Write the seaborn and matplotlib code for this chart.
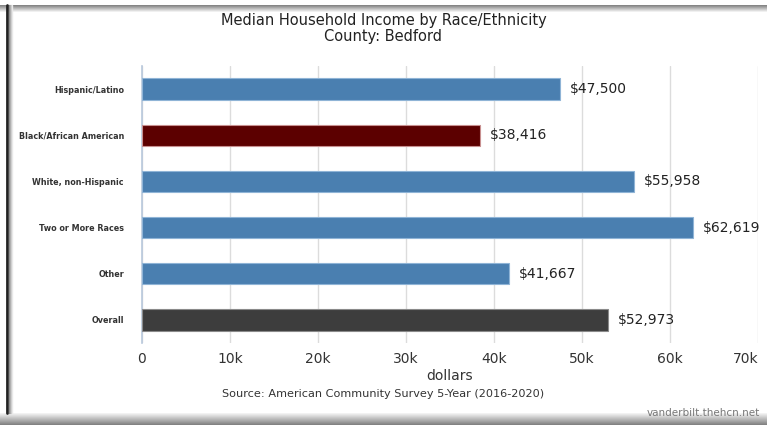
import matplotlib
matplotlib.use("Agg")
import matplotlib.pyplot as plt
import seaborn as sns
import pandas as pd
from matplotlib.patches import Rectangle
from matplotlib.lines import Line2D

# Median household income by race/ethnicity, Bedford County
categories = ["Hispanic/Latino", "Black/African American", "White, non-Hispanic",
              "Two or More Races", "Other", "Overall"]
incomes = [47500, 38416, 55958, 62619, 41667, 52973]
bar_colors = ["#4a7fb0", "#5c0000", "#4a7fb0", "#4a7fb0", "#4a7fb0", "#3d3d3d"]
edge_colors = ["#8fb4d6", "#c89090", "#8fb4d6", "#8fb4d6", "#8fb4d6", "#8a8a8a"]
x_ticks = [0, 10000, 20000, 30000, 40000, 50000, 60000, 70000]
x_tick_labels = ["0", "10k", "20k", "30k", "40k", "50k", "60k", "70k"]

df = pd.DataFrame({"category": categories, "income": incomes})

sns.set_theme(style="white")
plt.rcParams["font.family"] = ["DejaVu Sans"]

fig = plt.figure(figsize=(7.67, 4.25), dpi=100)
W, H = 767, 425
ax = fig.add_axes([142 / W, 1 - 343 / H, 616 / W, 277 / H])

sns.barplot(data=df, x="income", y="category", hue="category",
            palette=dict(zip(categories, bar_colors)), legend=False,
            saturation=1, width=0.46, orient="h", ax=ax, zorder=3)

for patch, ec in zip(ax.patches, edge_colors):
    patch.set_edgecolor(ec)
    patch.set_linewidth(0.8)

ax.set_xlim(0, 70000)
ax.set_ylim(5.5, -0.5)
ax.set_xticks(x_ticks)
ax.set_xticklabels(x_tick_labels, fontsize=10, color="#333333")
ax.get_xticklabels()[-1].set_horizontalalignment("right")
ax.tick_params(axis="x", length=0, pad=6.5)
ax.tick_params(axis="y", length=0, pad=13, labelsize=5.8, labelcolor="#333333")
for lbl in ax.get_yticklabels():
    lbl.set_fontweight("bold")

ax.grid(axis="x", color="#dcdcdc", linewidth=1.0, zorder=0)
ax.grid(axis="y", visible=False)
for side in ["top", "right", "bottom"]:
    ax.spines[side].set_visible(False)
ax.spines["left"].set_color("#b8c8dc")
ax.spines["left"].set_linewidth(1.2)

ax.set_xlabel("dollars", fontsize=10, color="#333333", labelpad=2)
ax.set_ylabel("")

# Value labels at bar ends
for i, v in enumerate(incomes):
    ax.annotate(f"${v:,}", xy=(v, i), xytext=(7, 0), textcoords="offset points",
                va="center", ha="left", fontsize=10, color="#222222",
                annotation_clip=False)

# Titles and source note
fig.text(0.5, 1 - 20 / H, "Median Household Income by Race/Ethnicity",
         ha="center", va="center", fontsize=10.5, color="#222222")
fig.text(0.5, 1 - 36 / H, "County: Bedford",
         ha="center", va="center", fontsize=10.5, color="#222222")
fig.text(0.5, 1 - 394 / H, "Source: American Community Survey 5-Year (2016-2020)",
         ha="center", va="center", fontsize=8.1, color="#333333")
fig.text(760 / W, 1 - 413 / H, "vanderbilt.thehcn.net",
         ha="right", va="center", fontsize=7.5, color="#777777")

# Window frame: top and bottom shading, left border
for k in range(8):
    g = 0.45 + k * 0.07
    fig.add_artist(Rectangle((0, 1 - (5 + k) / H), 1, 1 / H,
                             transform=fig.transFigure, color=(g, g, g),
                             zorder=0, lw=0))
fig.add_artist(Rectangle((0, 1 - 5 / H), 1, 5 / H, transform=fig.transFigure,
                         color="white", zorder=0, lw=0))
for k in range(12):
    g = 0.95 - k * 0.04
    fig.add_artist(Rectangle((0, (12 - k) / H - 1 / H), 1, 1 / H,
                             transform=fig.transFigure, color=(g, g, g),
                             zorder=0, lw=0))
fig.add_artist(Line2D([7 / W, 7 / W], [12 / H, 1 - 5 / H],
                      transform=fig.transFigure, color="#222222", lw=2))
for k in range(4):
    g = 0.55 + k * 0.12
    fig.add_artist(Line2D([(9 + k) / W, (9 + k) / W], [12 / H, 1 - 5 / H],
                          transform=fig.transFigure, color=(g, g, g), lw=1))

fig.savefig("out.png", dpi=100)
